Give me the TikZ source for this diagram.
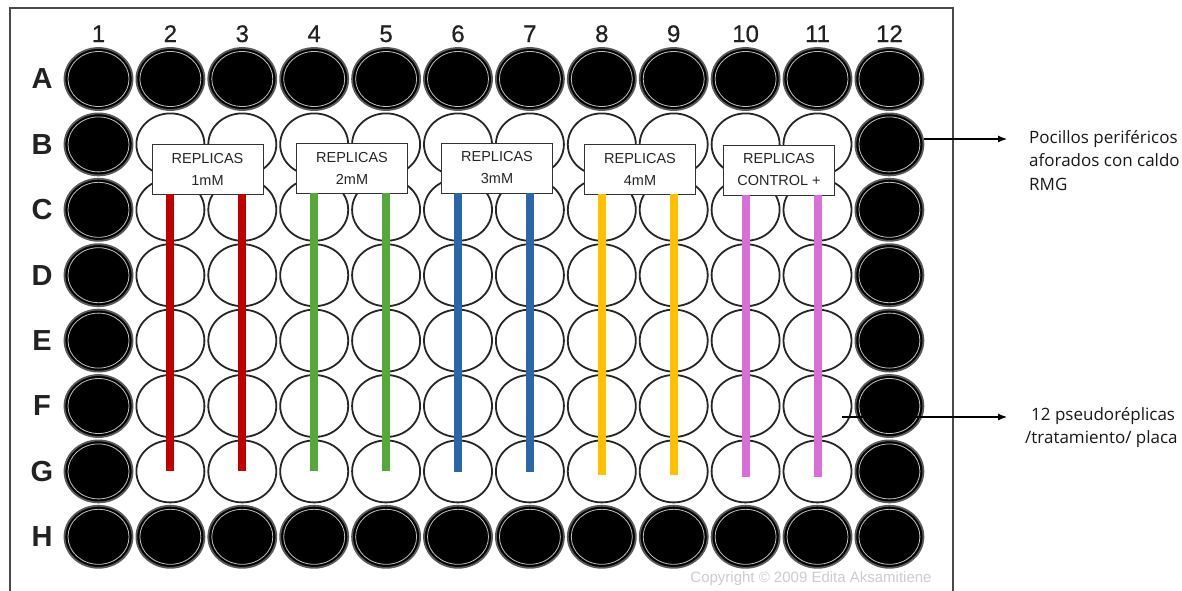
\documentclass[tikz,border=0pt]{standalone}
\usepackage{fontspec}
\setmainfont{Liberation Sans}
\newfontfamily\annfont{Open Sans}
\newfontfamily\colfont[FakeBold=0.6]{Liberation Sans}
\usetikzlibrary{shapes.geometric,arrows.meta}
\definecolor{repred}{HTML}{C00000}
\definecolor{repgreen}{HTML}{56A83A}
\definecolor{repblue}{HTML}{2A66A8}
\definecolor{repyellow}{HTML}{FFC000}
\definecolor{reppink}{HTML}{D86FD6}
\definecolor{platebord}{HTML}{4A4A4A}
\definecolor{labgray}{HTML}{222222}
\begin{document}
\begin{tikzpicture}[x=1pt,y=-1pt,
  openwell/.style={ellipse, draw=black!85, line width=1.8pt, fill=white, minimum width=68pt, minimum height=62pt, inner sep=0pt},
  fullwell/.style={ellipse, draw=black!65, line width=1.8pt, fill=black, minimum width=68pt, minimum height=62pt, inner sep=0pt},
  ringhl/.style={draw=white!75!black, line width=0.8pt},
  collab/.style={font=\colfont\fontsize{24}{24}\selectfont, text=labgray, inner sep=0pt, anchor=base},
  rowlab/.style={font=\fontsize{29}{29}\selectfont\bfseries, text=labgray, inner sep=0pt},
  repbox/.style={draw=black!80, line width=0.8pt, fill=white, minimum width=111pt, minimum height=50pt, align=center, inner sep=0pt, font=\fontsize{14.5}{22}\selectfont, text=black!85},
  repline/.style={line width=8pt},
  annot/.style={align=left, anchor=north west, inner sep=0pt, font=\annfont\fontsize{17}{23.5}\selectfont, text=black!90},
  pointer/.style={line width=1.1pt, -{Latex[length=9pt,width=7pt]}}
]
\useasboundingbox (0,0) rectangle (1182,590);
\fill[white] (0,0) rectangle (1182,590);
% plate outline
\draw[platebord, line width=2.5pt] (10,8) rectangle (953,620);
% column and row labels
\foreach \c in {1,...,12}{
  \node[collab] (c-\c) at ({98.5+71.9*(\c-1)},42) {\c};
}
\foreach \r [count=\j] in {A,B,C,D,E,F,G,H}{
  \node[rowlab] (r-\r) at (42,{79+65.4*(\j-1)}) {\r};
}
% wells
\foreach \r [count=\j] in {A,B,C,D,E,F,G,H}{
  \foreach \c in {1,...,12}{
    \pgfmathtruncatemacro{\outer}{or(or(\j==1,\j==8),or(\c==1,\c==12))}
    \ifnum\outer=1
      \node[fullwell] (w-\r-\c) at ({98.5+71.9*(\c-1)},{79+65.4*(\j-1)}) {};
      \draw[ringhl] (w-\r-\c.center) ellipse (30.5pt and 27.5pt);
    \else
      \node[openwell] (w-\r-\c) at ({98.5+71.9*(\c-1)},{79+65.4*(\j-1)}) {};
    \fi
  }
}
% replica boxes
\node[repbox] (b1) at (207.5,169) {REPLICAS\\1mM};
\node[repbox] (b2) at (352,168) {REPLICAS\\2mM};
\node[repbox] (b3) at (497,168) {REPLICAS\\3mM};
\node[repbox] (b4) at (640,169) {REPLICAS\\4mM};
\node[repbox] (b5) at (779,170) {REPLICAS\\CONTROL +};
% replica lines
\draw[repline, repred] (b1.south -| w-C-2) -- (w-G-2.center);
\draw[repline, repred] (b1.south -| w-C-3) -- (w-G-3.center);
\draw[repline, repgreen] (b2.south -| w-C-4) -- (w-G-4.center);
\draw[repline, repgreen] (b2.south -| w-C-5) -- (w-G-5.center);
\draw[repline, repblue] (b3.south -| w-C-6) -- ([yshift=-1pt]w-G-6.center);
\draw[repline, repblue] (b3.south -| w-C-7) -- ([yshift=-1pt]w-G-7.center);
\draw[repline, repyellow] (b4.south -| w-C-8) -- ([yshift=-4pt]w-G-8.center);
\draw[repline, repyellow] (b4.south -| w-C-9) -- ([yshift=-4pt]w-G-9.center);
\draw[repline, reppink] (b5.south -| w-C-10) -- ([yshift=-6pt]w-G-10.center);
\draw[repline, reppink] (b5.south -| w-C-11) -- ([yshift=-6pt]w-G-11.center);
% annotations
\node[annot] (t1) at (1029,130) {Pocillos periféricos\\aforados con caldo\\RMG};
\node[annot] (t2) at (1025,407) {\hspace*{6pt}12 pseudoréplicas\\/tratamiento/ placa};
\coordinate (a1) at (1007,139);
\coordinate (s2) at (842,417);
\coordinate (a2) at (1007,417);
\draw[pointer] (w-B-12.east |- a1) -- (a1);
\draw[pointer] (s2) -- (a2);
% copyright
\node[font=\fontsize{15}{15}\selectfont, text=black!20, inner sep=0pt] (copy) at (811,579) {Copyright © 2009 Edita Aksamitiene};
\end{tikzpicture}
\end{document}
